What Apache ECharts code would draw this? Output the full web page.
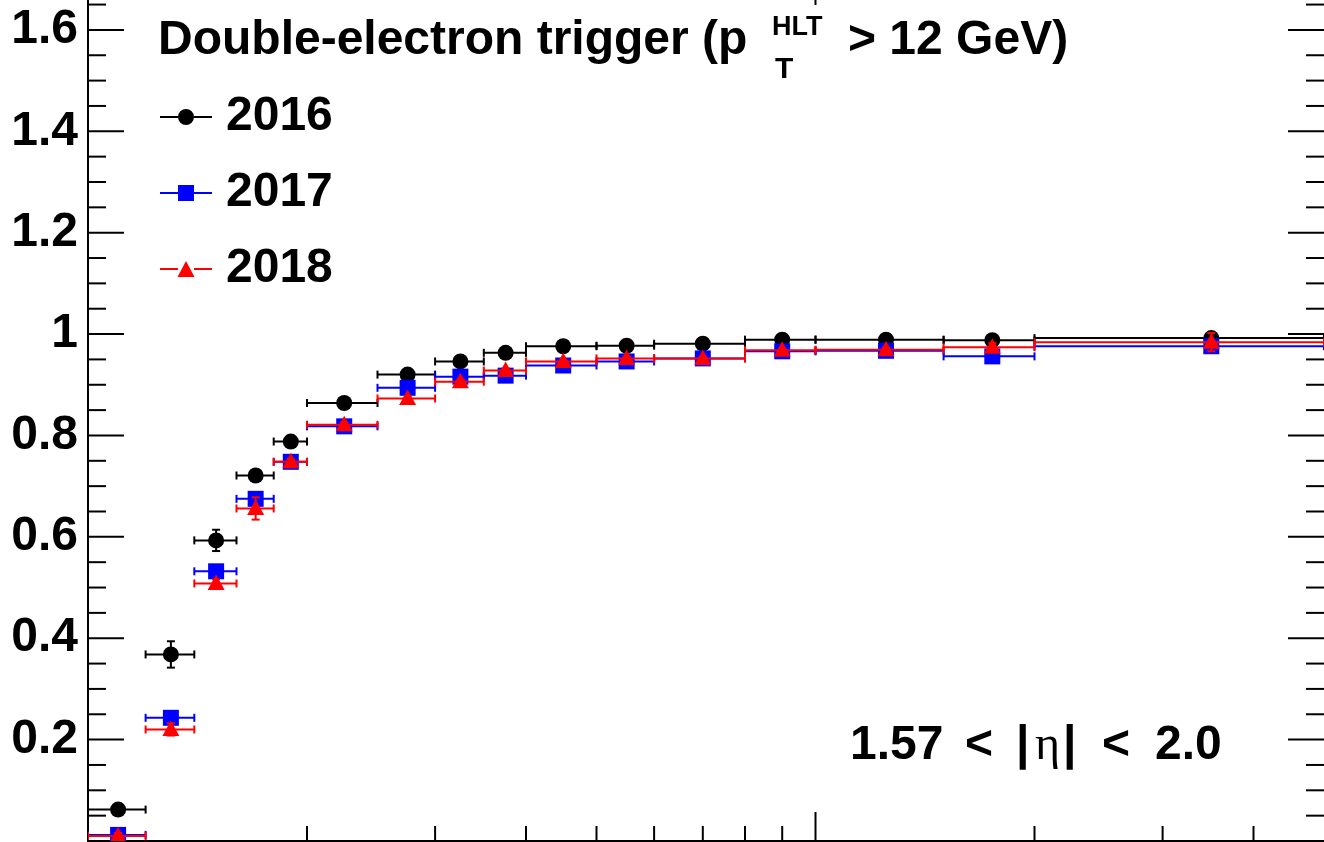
<!DOCTYPE html>
<html>
<head>
<meta charset="utf-8">
<script src="https://cdn.jsdelivr.net/npm/echarts@6/dist/echarts.min.js"></script>
<style>
  html, body { margin: 0; padding: 0; background: #fff; }
  #chart { width: 1324px; height: 842px; }
</style>
</head>
<body>
<div id="chart"></div>
<script>
// pT bins (GeV)
const binLow = [10, 12, 14, 16, 18, 20, 25, 30, 35, 40, 50, 60, 80, 100, 150, 200];
const binHigh = [12, 14, 16, 18, 20, 25, 30, 35, 40, 50, 60, 80, 100, 150, 200, 500];
const binCenter = [11, 13, 15, 17, 19, 22.5, 27.5, 32.5, 37.5, 45, 55, 70, 90, 125, 175, 350];

// efficiencies and uncertainties per year
const eff2016 = [0.062, 0.368, 0.593, 0.721, 0.788, 0.864, 0.920, 0.946, 0.963, 0.976, 0.977, 0.981, 0.989, 0.989, 0.988, 0.992];
const err2016 = [0.008, 0.026, 0.021, 0.008, 0.006, 0.004, 0.004, 0.004, 0.003, 0.003, 0.003, 0.003, 0.003, 0.003, 0.004, 0.004];
const eff2017 = [0.012, 0.243, 0.532, 0.675, 0.748, 0.818, 0.894, 0.916, 0.918, 0.938, 0.946, 0.952, 0.966, 0.967, 0.956, 0.976];
const err2017 = [0.006, 0.008, 0.008, 0.008, 0.006, 0.005, 0.004, 0.004, 0.004, 0.003, 0.003, 0.003, 0.003, 0.003, 0.004, 0.005];
const eff2018 = [0.010, 0.220, 0.508, 0.656, 0.748, 0.821, 0.873, 0.906, 0.928, 0.946, 0.952, 0.952, 0.968, 0.969, 0.974, 0.984];
const err2018 = [0.006, 0.012, 0.008, 0.022, 0.006, 0.005, 0.005, 0.004, 0.004, 0.003, 0.003, 0.003, 0.003, 0.004, 0.008, 0.018];

// axis ticks
const yLabels = [0.2, 0.4, 0.6, 0.8, 1, 1.2, 1.4, 1.6];
const yMajorTicks = [0.2, 0.4, 0.6, 0.8, 1.0, 1.2, 1.4, 1.6];
const yMinorTicks = [0.05, 0.1, 0.15, 0.25, 0.3, 0.35, 0.45, 0.5, 0.55, 0.65, 0.7, 0.75, 0.85, 0.9, 0.95,
                     1.05, 1.1, 1.15, 1.25, 1.3, 1.35, 1.45, 1.5, 1.55, 1.65];
const xMajorTicks = [100];
const xMinorTicks = [20, 30, 40, 50, 60, 70, 80, 90, 200, 300, 400];

const FONT = '"Liberation Sans", Arial, Helvetica, sans-serif';
const Y_MAJOR = 36, Y_MINOR = 18;
const X_MAJOR = 29, X_MINOR = 15;
const TOP_HIDDEN = 24; // top frame sits just above the visible area

const chart = echarts.init(document.getElementById('chart'));

function errorSeries(name, color, shape, eff, err) {
  const data = binCenter.map((x, i) => [x, eff[i], binLow[i], binHigh[i], eff[i] - err[i], eff[i] + err[i]]);
  return {
    type: 'custom',
    name: name,
    data: data,
    clip: true,
    itemStyle: { color: color },
    encode: { x: [0, 2, 3], y: [1, 4, 5] },
    renderItem: function (params, api) {
      const c = api.coord([api.value(0), api.value(1)]);
      const lo = api.coord([api.value(2), api.value(1)]);
      const hi = api.coord([api.value(3), api.value(1)]);
      const yl = api.coord([api.value(0), api.value(4)]);
      const yh = api.coord([api.value(0), api.value(5)]);
      const s = { stroke: color, lineWidth: 2 };
      const cap = 4;
      const kids = [
        { type: 'line', shape: { x1: lo[0], y1: c[1], x2: hi[0], y2: c[1] }, style: s },
        { type: 'line', shape: { x1: lo[0], y1: c[1] - cap, x2: lo[0], y2: c[1] + cap }, style: s },
        { type: 'line', shape: { x1: hi[0], y1: c[1] - cap, x2: hi[0], y2: c[1] + cap }, style: s },
        { type: 'line', shape: { x1: c[0], y1: yl[1], x2: c[0], y2: yh[1] }, style: s },
        { type: 'line', shape: { x1: c[0] - cap, y1: yl[1], x2: c[0] + cap, y2: yl[1] }, style: s },
        { type: 'line', shape: { x1: c[0] - cap, y1: yh[1], x2: c[0] + cap, y2: yh[1] }, style: s }
      ];
      if (shape === 'circle') {
        kids.push({ type: 'circle', shape: { cx: c[0], cy: c[1], r: 8 }, style: { fill: color } });
      } else if (shape === 'square') {
        kids.push({ type: 'rect', shape: { x: c[0] - 8, y: c[1] - 8, width: 16, height: 16 }, style: { fill: color } });
      } else {
        kids.push({ type: 'polygon', shape: { points: [[c[0], c[1] - 9], [c[0] + 8.5, c[1] + 6.5], [c[0] - 8.5, c[1] + 6.5]] }, style: { fill: color } });
      }
      return { type: 'group', children: kids };
    }
  };
}

// frame ticks on all four sides, ROOT style
const xTickData = xMajorTicks.map(v => [v, 1, X_MAJOR]).concat(xMinorTicks.map(v => [v, 1, X_MINOR]));
const yTickData = yMajorTicks.map(v => [50, v, Y_MAJOR]).concat(yMinorTicks.map(v => [50, v, Y_MINOR]));

function tickSeries(data, isX) {
  return {
    type: 'custom',
    data: data,
    clip: false,
    silent: true,
    z: 1,
    renderItem: function (params, api) {
      const cs = params.coordSys;
      const p = api.coord([api.value(0), api.value(1)]);
      const len = api.value(2);
      const s = { stroke: '#000', lineWidth: 2 };
      if (isX) {
        const kids = [
          { type: 'line', shape: { x1: p[0], y1: cs.y + cs.height, x2: p[0], y2: cs.y + cs.height - len }, style: s }
        ];
        if (len > TOP_HIDDEN) {
          kids.push({ type: 'line', shape: { x1: p[0], y1: cs.y, x2: p[0], y2: cs.y + len - TOP_HIDDEN }, style: s });
        }
        return { type: 'group', children: kids };
      }
      return { type: 'group', children: [
        { type: 'line', shape: { x1: cs.x, y1: p[1], x2: cs.x + len, y2: p[1] }, style: s },
        { type: 'line', shape: { x1: cs.x + cs.width, y1: p[1], x2: cs.x + cs.width - len, y2: p[1] }, style: s }
      ] };
    }
  };
}

const iconCircle = 'path://M0,7H18V9H0Z M34,7H52V9H34Z M18,8A8,8 0 1,0 34,8A8,8 0 1,0 18,8Z';
const iconSquare = 'path://M0,7H18V9H0Z M34,7H52V9H34Z M18,0H34V16H18Z';
const iconTriangle = 'path://M0,7H18V9H0Z M34,7H52V9H34Z M26,0L34.5,16H17.5Z';

function txt(s, left, top, font) {
  return { type: 'text', left: left, top: top, style: { text: s, font: font, fill: '#000' } };
}
const BIG = 'bold 48px ' + FONT;
const ETA = '48px "Liberation Serif", "DejaVu Serif", serif';

const option = {
  backgroundColor: '#fff',
  animation: false,
  grid: { left: 88, right: 0, top: 0, bottom: 1, containLabel: false },
  xAxis: {
    type: 'log',
    logBase: 10,
    min: 10,
    max: 500,
    axisLine: { show: true, lineStyle: { color: '#000', width: 2 } },
    axisTick: { show: false },
    axisLabel: { show: false },
    splitLine: { show: false }
  },
  yAxis: {
    type: 'value',
    min: 0,
    max: 1.659,
    interval: 0.2,
    axisLine: { show: true, lineStyle: { color: '#000', width: 2 } },
    axisTick: { show: false },
    splitLine: { show: false },
    axisLabel: {
      margin: 10,
      color: '#000',
      fontSize: 48,
      fontWeight: 'bold',
      fontFamily: FONT,
      showMaxLabel: false,
      formatter: function (v) {
        const hit = yLabels.find(t => Math.abs(t - v) < 1e-6);
        return hit === undefined ? '' : String(hit);
      }
    }
  },
  legend: {
    orient: 'vertical',
    left: 160,
    top: 89,
    padding: 0,
    itemWidth: 52,
    itemHeight: 16,
    itemGap: 20,
    selectedMode: false,
    textStyle: { fontSize: 48, fontWeight: 'bold', fontFamily: FONT, color: '#000', lineHeight: 56, padding: [0, 0, 0, 9] },
    data: [
      { name: '2016', icon: iconCircle },
      { name: '2017', icon: iconSquare },
      { name: '2018', icon: iconTriangle }
    ]
  },
  graphic: [
    txt('Double-electron trigger (p', 158, 17, BIG),
    txt('HLT', 772, 14, 'bold 27px ' + FONT),
    txt('T', 775, 55, 'bold 30px ' + FONT),
    txt('> 12 GeV)', 848, 17, BIG),
    txt('1.57', 850, 722, BIG),
    txt('<', 965, 722, BIG),
    txt('|', 1016, 722, BIG),
    txt('η', 1035, 722, ETA),
    txt('|', 1063, 722, BIG),
    txt('<', 1102, 722, BIG),
    txt('2.0', 1155, 722, BIG)
  ],
  series: [
    tickSeries(xTickData, true),
    tickSeries(yTickData, false),
    errorSeries('2016', '#000000', 'circle', eff2016, err2016),
    errorSeries('2017', '#0000ff', 'square', eff2017, err2017),
    errorSeries('2018', '#ff0000', 'triangle', eff2018, err2018)
  ]
};

chart.setOption(option);
</script>
</body>
</html>
